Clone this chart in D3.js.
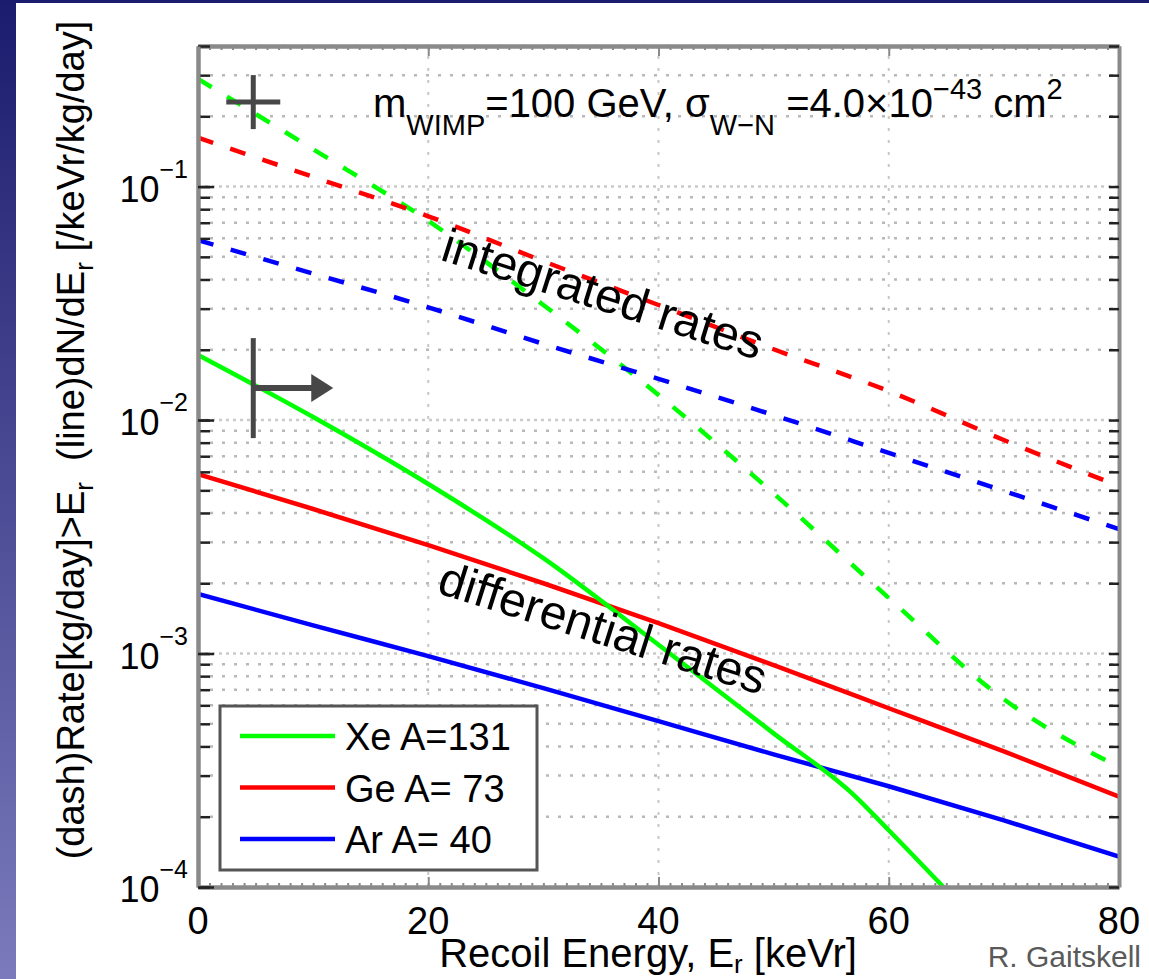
<html>
<head>
<meta charset="utf-8">
<style>
    body { margin: 0; }
    text { font-family: "Liberation Sans", Arial, sans-serif; fill: #000; }
    .gridMinor line { stroke: #b8b8b8; stroke-width: 2.5; stroke-dasharray: 3,9; }
    .gridMajor line { stroke: #cacaca; stroke-width: 2.5; stroke-dasharray: 3,4; }
    .gridX line { stroke: #c8c8c8; stroke-width: 2; stroke-dasharray: 3,9; }
    .axis path.domain { stroke: #8a8a8a; stroke-width: 4; }
    .axis line { stroke: #222; stroke-width: 2.5; }
    .axisX line { stroke: #8a8a8a; stroke-width: 2; }
    .rate { fill: none; stroke-width: 4.5; }
    .integrated { stroke-dasharray: 16,18; }
</style>
</head>
<body>
<svg id="chart"></svg>
<script src="https://d3js.org/d3.v7.min.js"></script>
<script>
    // recoil energy grid [keVr] for the smooth curves
    let energies = [0, 10, 20, 30, 40, 50, 60, 70, 80];
    // Xe differential rate falls off the bottom of the plot, so it has its own grid
    let xeDiffEnergies = [0, 10, 20, 30, 40, 50, 57, 60, 65];

    // differential rates dN/dEr [/keVr/kg/day]
    let xeDiff = [0.0190, 0.0103, 0.00532, 0.00256, 0.00109, 4.55e-4, 2.47e-4, 1.75e-4, 9.7e-5];
    let geDiff = [5.87e-3, 4.16e-3, 2.91e-3, 2.0e-3, 1.35e-3, 8.91e-4, 5.83e-4, 3.81e-4, 2.44e-4];
    let arDiff = [1.80e-3, 1.32e-3, 9.75e-4, 7.11e-4, 5.13e-4, 3.70e-4, 2.70e-4, 1.93e-4, 1.35e-4];

    // integrated rates above Er [kg/day]
    let xeInt = [0.289, 0.1445, 0.0713, 0.0311, 0.0128, 4.85e-3, 1.73e-3, 6.37e-4, 3.26e-4];
    let geInt = [0.162, 0.110, 0.0746, 0.0479, 0.0311, 0.0201, 0.0133, 8.21e-3, 5.21e-3];
    let arInt = [0.0589, 0.0424, 0.0304, 0.0212, 0.0150, 0.0105, 7.23e-3, 4.97e-3, 3.41e-3];

    let targets = ['Xe A=131', 'Ge A= 73', 'Ar A= 40'];
    let colors = ['#00ff00', '#ff0000', '#0000ff'];

    let xTicks = [0, 20, 40, 60, 80];
    let yDecades = [1e-4, 1e-3, 1e-2, 1e-1];
    let yDecadeLabels = ['\u22124', '\u22123', '\u22122', '\u22121'];

    // threshold markers: cross on the integrated curve and bar+arrow on the differential one
    let crossPoint = [4.8, 0.23];
    let thresholdPoint = [4.8, 0.0137];

    function getConfig(){
        let width = 1149;
        let height = 979;
        let margin = { top: 46, bottom: 92, left: 198, right: 30 };
        let bodyWidth = width - margin.left - margin.right;
        let bodyHeight = height - margin.top - margin.bottom;
        let container = d3.select('#chart')
            .attr('width', width)
            .attr('height', height);
        return { width, height, margin, bodyWidth, bodyHeight, container };
    }

    function getScales(config){
        let {margin, width, height} = config;
        let xScale = d3.scaleLinear()
            .domain([0, 80])
            .range([margin.left, width - margin.right]);
        let yScale = d3.scaleLog()
            .domain([1e-4, 0.4])
            .range([height - margin.bottom, margin.top]);
        return {xScale, yScale};
    }

    // slide background: blue gradient frame with a white panel
    function drawBackground(config){
        let {container, width, height} = config;
        let defs = container.append('defs');
        let grad = defs.append('linearGradient')
            .attr('id', 'slideBg')
            .attr('x1', 0).attr('y1', 0).attr('x2', 0).attr('y2', 1);
        grad.append('stop').attr('offset', '0%').attr('stop-color', '#1c1c6e');
        grad.append('stop').attr('offset', '100%').attr('stop-color', '#7a7abc');
        container.append('rect')
            .attr('width', width).attr('height', height)
            .attr('fill', 'url(#slideBg)');
        container.append('rect')
            .attr('x', 16).attr('y', 3)
            .attr('width', width - 16).attr('height', height - 3)
            .attr('fill', '#fff');
    }

    function drawGrid(scales, config){
        let {xScale, yScale} = scales;
        let {container} = config;
        let [x0, x1] = xScale.range();
        let [y0, y1] = yScale.range();
        let minorTicks = yScale.ticks().filter(t => !yDecades.some(d => Math.abs(t / d - 1) < 1e-6));

        container.append('g').attr('class', 'gridMinor')
            .selectAll('line').data(minorTicks).enter().append('line')
            .attr('x1', x0).attr('x2', x1)
            .attr('y1', d => yScale(d)).attr('y2', d => yScale(d));

        container.append('g').attr('class', 'gridMajor')
            .selectAll('line').data(yDecades.slice(1)).enter().append('line')
            .attr('x1', x0).attr('x2', x1)
            .attr('y1', d => yScale(d)).attr('y2', d => yScale(d));

        container.append('g').attr('class', 'gridX')
            .selectAll('line').data(xTicks.slice(1, -1)).enter().append('line')
            .attr('x1', d => xScale(d)).attr('x2', d => xScale(d))
            .attr('y1', y0).attr('y2', y1);
    }

    function drawAxes(scales, config){
        let {xScale, yScale} = scales;
        let {container, margin, width, height} = config;
        let allY = yScale.ticks();

        // ticks point into the plot on every side
        container.append('g').attr('class', 'axis axisX')
            .attr('transform', `translate(0,${height - margin.bottom})`)
            .call(d3.axisBottom(xScale).tickValues(d3.range(0, 81, 1)).tickSize(-4).tickSizeOuter(0).tickFormat(''));
        container.append('g').attr('class', 'axis axisX')
            .attr('transform', `translate(0,${height - margin.bottom})`)
            .call(d3.axisBottom(xScale).tickValues(xTicks).tickSize(-10).tickSizeOuter(0).tickFormat(''));
        container.append('g').attr('class', 'axis axisX')
            .attr('transform', `translate(0,${margin.top})`)
            .call(d3.axisTop(xScale).tickValues(d3.range(0, 81, 1)).tickSize(-4).tickSizeOuter(0).tickFormat(''));
        container.append('g').attr('class', 'axis axisX')
            .attr('transform', `translate(0,${margin.top})`)
            .call(d3.axisTop(xScale).tickValues(xTicks).tickSize(-10).tickSizeOuter(0).tickFormat(''));

        container.append('g').attr('class', 'axis')
            .attr('transform', `translate(${margin.left},0)`)
            .call(d3.axisLeft(yScale).tickValues(allY).tickSize(-12).tickSizeOuter(0).tickFormat(''));
        container.append('g').attr('class', 'axis')
            .attr('transform', `translate(${margin.left},0)`)
            .call(d3.axisLeft(yScale).tickValues(yDecades).tickSize(-16).tickSizeOuter(0).tickFormat(''));
        container.append('g').attr('class', 'axis')
            .attr('transform', `translate(${width - margin.right},0)`)
            .call(d3.axisRight(yScale).tickValues(allY).tickSize(-10).tickSizeOuter(0).tickFormat(''));

        // tick labels
        container.append('g').selectAll('text')
            .data(xTicks).enter().append('text')
            .attr('x', d => xScale(d))
            .attr('y', height - margin.bottom + 47)
            .attr('text-anchor', 'middle')
            .style('font-size', '38px')
            .text(d => d);

        let yLab = container.append('g').selectAll('text')
            .data(yDecades).enter().append('text')
            .attr('x', margin.left - 10)
            .attr('y', d => yScale(d) + 15)
            .attr('text-anchor', 'end')
            .style('font-size', '36px');
        yLab.append('tspan').text('10');
        yLab.append('tspan')
            .attr('dy', -24)
            .style('font-size', '25px')
            .text((d, i) => yDecadeLabels[i]);

        // axis titles
        let xt = container.append('text')
            .attr('x', 648).attr('y', 967)
            .attr('text-anchor', 'middle')
            .style('font-size', '40px');
        xt.append('tspan').text('Recoil Energy, E');
        xt.append('tspan').attr('dy', 6).style('font-size', '26px').text('r');
        xt.append('tspan').attr('dy', -6).text(' [keVr]');

        let yt = container.append('text')
            .attr('transform', 'translate(84,440) rotate(-90)')
            .attr('text-anchor', 'middle')
            .style('font-size', '38px')
            .style('white-space', 'pre');
        yt.append('tspan').text('(dash)Rate[kg/day]>E');
        yt.append('tspan').attr('dy', 9).style('font-size', '26px').text('r');
        yt.append('tspan').attr('dy', -9).text('  (line)dN/dE');
        yt.append('tspan').attr('dy', 9).style('font-size', '26px').text('r');
        yt.append('tspan').attr('dy', -9).text(' [/keVr/kg/day]');
    }

    function drawRates(scales, config){
        let {xScale, yScale} = scales;
        let {container, margin, bodyWidth, bodyHeight} = config;

        container.select('defs').append('clipPath').attr('id', 'plotClip')
            .append('rect')
            .attr('x', margin.left).attr('y', margin.top)
            .attr('width', bodyWidth).attr('height', bodyHeight);

        let body = container.append('g').attr('clip-path', 'url(#plotClip)');
        let lineG = d3.line()
            .x(d => xScale(d[0]))
            .y(d => yScale(d[1]))
            .curve(d3.curveMonotoneX);

        let integrated = [xeInt, geInt, arInt].map(s => energies.map((e, i) => [e, s[i]]));
        let differential = [
            xeDiffEnergies.map((e, i) => [e, xeDiff[i]]),
            energies.map((e, i) => [e, geDiff[i]]),
            energies.map((e, i) => [e, arDiff[i]])
        ];

        body.selectAll('.integrated')
            .data(integrated).enter().append('path')
            .attr('class', 'rate integrated')
            .attr('stroke', (d, i) => colors[i])
            .attr('d', lineG);

        // draw Ar first so Xe sits on top
        body.selectAll('.differential')
            .data(differential.map((d, i) => ({d, i})).reverse()).enter().append('path')
            .attr('class', 'rate differential')
            .attr('stroke', o => colors[o.i])
            .attr('d', o => lineG(o.d));
    }

    function drawAnnotations(scales, config){
        let {xScale, yScale} = scales;
        let {container} = config;
        let ink = '#474747';

        let cx = xScale(crossPoint[0]), cy = yScale(crossPoint[1]);
        let cross = container.append('g').attr('stroke', ink).attr('stroke-width', 5);
        cross.append('line').attr('x1', cx - 27).attr('x2', cx + 27).attr('y1', cy).attr('y2', cy);
        cross.append('line').attr('x1', cx).attr('x2', cx).attr('y1', cy - 27).attr('y2', cy + 27);

        let tx = xScale(thresholdPoint[0]), ty = yScale(thresholdPoint[1]);
        let arrow = container.append('g');
        arrow.append('line')
            .attr('x1', tx).attr('x2', tx).attr('y1', ty - 50).attr('y2', ty + 50)
            .attr('stroke', ink).attr('stroke-width', 5);
        arrow.append('line')
            .attr('x1', tx).attr('x2', tx + 62).attr('y1', ty).attr('y2', ty)
            .attr('stroke', ink).attr('stroke-width', 6);
        arrow.append('path')
            .attr('d', `M${tx + 58},${ty - 14} L${tx + 80},${ty} L${tx + 58},${ty + 14} Z`)
            .attr('fill', ink);

        container.append('text')
            .attr('transform', 'translate(603,294) rotate(17.5)')
            .attr('text-anchor', 'middle')
            .attr('dominant-baseline', 'central')
            .style('font-size', '48px')
            .text('integrated rates');
        container.append('text')
            .attr('transform', 'translate(603,628) rotate(17.5)')
            .attr('text-anchor', 'middle')
            .attr('dominant-baseline', 'central')
            .style('font-size', '48px')
            .text('differential rates');

        // WIMP parameters
        let t = container.append('text')
            .attr('x', 373).attr('y', 117)
            .style('font-size', '40px')
            .style('white-space', 'pre');
        t.append('tspan').text('m');
        t.append('tspan').attr('dy', 18).style('font-size', '29px').text('WIMP');
        t.append('tspan').attr('dy', -18).text('=100 GeV, \u03c3');
        t.append('tspan').attr('dy', 18).style('font-size', '29px').text('W\u2212N');
        t.append('tspan').attr('dy', -18).text(' =4.0\u00d710');
        t.append('tspan').attr('dy', -18).style('font-size', '29px').text('\u221243');
        t.append('tspan').attr('dy', 18).text(' cm');
        t.append('tspan').attr('dy', -18).style('font-size', '29px').text('2');

        container.append('text')
            .attr('x', 1141).attr('y', 967)
            .attr('text-anchor', 'end')
            .style('font-size', '30px')
            .style('fill', '#5a5a5a')
            .text('R. Gaitskell');
    }

    function drawLegend(config){
        let {container} = config;
        let lg = container.append('g').attr('transform', 'translate(220,706)');
        lg.append('rect')
            .attr('width', 317).attr('height', 164)
            .attr('fill', '#fff')
            .attr('stroke', '#555').attr('stroke-width', 3);
        let rows = lg.selectAll('.entry')
            .data(targets).enter().append('g')
            .attr('transform', (d, i) => `translate(0,${30 + i * 51.5})`);
        rows.append('line')
            .attr('x1', 20).attr('x2', 115)
            .attr('stroke', (d, i) => colors[i])
            .attr('stroke-width', 4.5);
        rows.append('text')
            .attr('x', 125).attr('y', 14)
            .style('font-size', '38px')
            .style('white-space', 'pre')
            .text(d => d);
    }

    let config = getConfig();
    let scales = getScales(config);
    drawBackground(config);
    drawGrid(scales, config);
    drawRates(scales, config);
    drawAxes(scales, config);
    drawAnnotations(scales, config);
    drawLegend(config);
</script>
</body>
</html>
